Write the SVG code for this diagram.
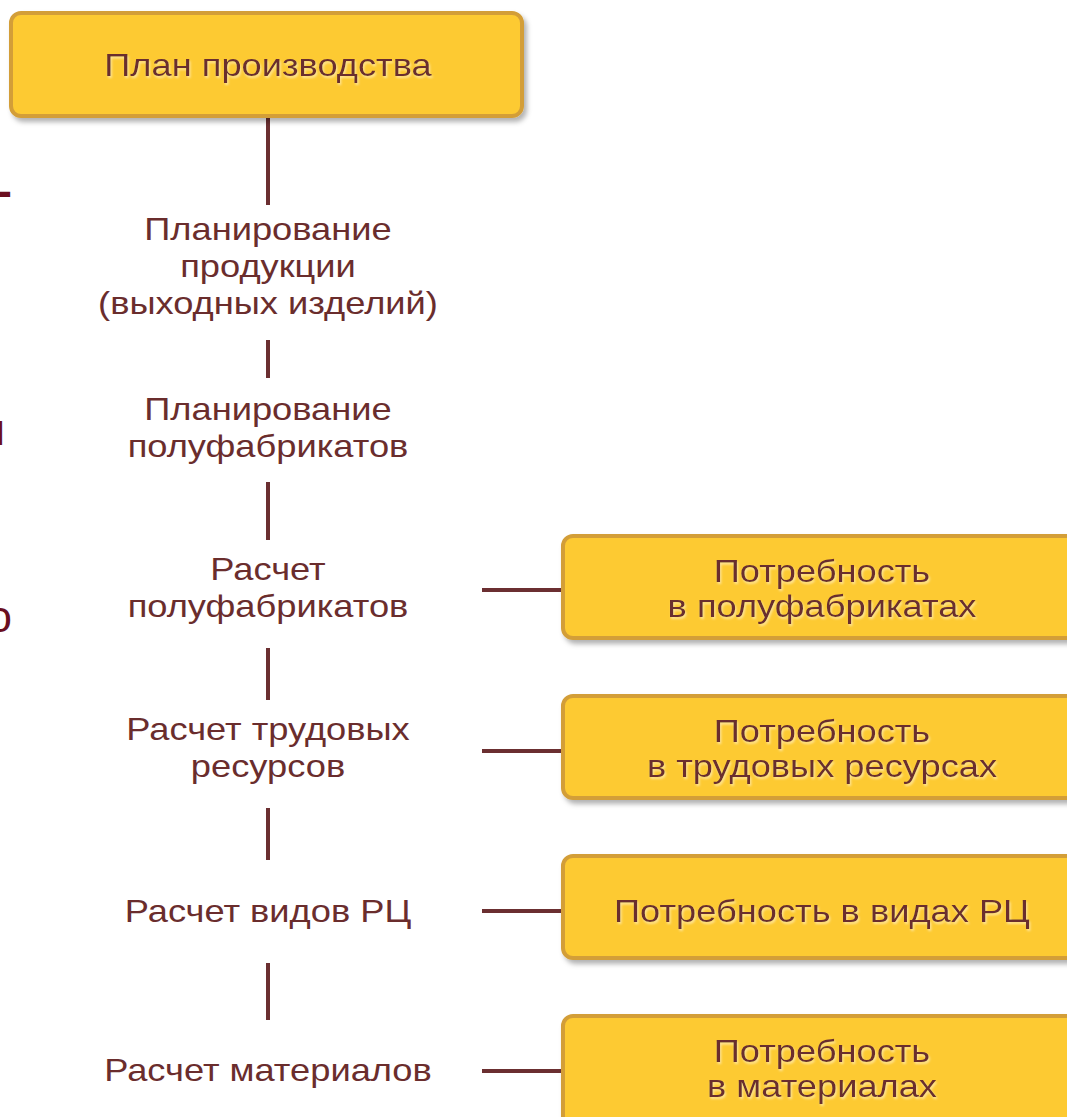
<svg xmlns="http://www.w3.org/2000/svg" width="1067" height="1117" viewBox="0 0 1067 1117">
<defs>
<filter id="sh" x="-10%" y="-10%" width="130%" height="140%">
<feDropShadow dx="3" dy="4" stdDeviation="2.5" flood-color="#000" flood-opacity="0.3"/>
</filter>
<filter id="ts" x="-5%" y="-20%" width="110%" height="150%">
<feDropShadow dx="1" dy="2" stdDeviation="0.8" flood-color="#ffe9a8" flood-opacity="0.9"/>
</filter>
<style>
.box{fill:#fdca33;stroke:#d39e39;stroke-width:4;filter:url(#sh)}
.t{font-family:"Liberation Sans",Arial,sans-serif;font-size:31px;fill:#6a2d2d;text-anchor:middle}
.bt{filter:url(#ts)}
.c{stroke:#6b2f31;stroke-width:4;fill:none}
.frag{font-family:"Liberation Sans",Arial,sans-serif;font-size:44px;fill:#6b0f1f;text-anchor:end}
</style>
</defs>
<rect width="1067" height="1117" fill="#fff"/>
<g id="fragments">
<text class="frag" x="12" y="206" font-weight="bold">-</text>
<text class="frag" x="5" y="445">и</text>
<text class="frag" x="12" y="632">о</text>
</g>
<g id="connectors">
<line class="c" x1="268" y1="116" x2="268" y2="205"/>
<line class="c" x1="268" y1="340" x2="268" y2="378"/>
<line class="c" x1="268" y1="482" x2="268" y2="540"/>
<line class="c" x1="268" y1="648" x2="268" y2="700"/>
<line class="c" x1="268" y1="808" x2="268" y2="860"/>
<line class="c" x1="268" y1="963" x2="268" y2="1020"/>
<line class="c" x1="482" y1="590" x2="563" y2="590"/>
<line class="c" x1="482" y1="751" x2="563" y2="751"/>
<line class="c" x1="482" y1="911" x2="563" y2="911"/>
<line class="c" x1="482" y1="1071" x2="563" y2="1071"/>
</g>
<g id="plan">
<rect class="box" x="11" y="13" width="511" height="103" rx="10"/>
<g transform="translate(268 0) scale(1.17 1)"><text class="t bt" x="0" y="76">План производства</text></g>
</g>
<g id="step1" transform="translate(268 0) scale(1.17 1)">
<text class="t" x="0" y="240">Планирование</text>
<text class="t" x="0" y="277">продукции</text>
<text class="t" x="0" y="314">(выходных изделий)</text>
</g>
<g id="step2" transform="translate(268 0) scale(1.17 1)">
<text class="t" x="0" y="420">Планирование</text>
<text class="t" x="0" y="457">полуфабрикатов</text>
</g>
<g id="step3" transform="translate(268 0) scale(1.17 1)">
<text class="t" x="0" y="580">Расчет</text>
<text class="t" x="0" y="617">полуфабрикатов</text>
</g>
<g id="step4" transform="translate(268 0) scale(1.17 1)">
<text class="t" x="0" y="740">Расчет трудовых</text>
<text class="t" x="0" y="777">ресурсов</text>
</g>
<g id="step5" transform="translate(268 0) scale(1.17 1)">
<text class="t" x="0" y="922">Расчет видов РЦ</text>
</g>
<g id="step6" transform="translate(268 0) scale(1.17 1)">
<text class="t" x="0" y="1081">Расчет материалов</text>
</g>
<g id="need1">
<rect class="box" x="563" y="536" width="520" height="102" rx="10"/>
<g transform="translate(822 0) scale(1.17 1)">
<text class="t bt" x="0" y="582">Потребность</text>
<text class="t bt" x="0" y="617">в полуфабрикатах</text>
</g>
</g>
<g id="need2">
<rect class="box" x="563" y="696" width="520" height="102" rx="10"/>
<g transform="translate(822 0) scale(1.17 1)">
<text class="t bt" x="0" y="742">Потребность</text>
<text class="t bt" x="0" y="777">в трудовых ресурсах</text>
</g>
</g>
<g id="need3">
<rect class="box" x="563" y="856" width="520" height="102" rx="10"/>
<g transform="translate(822 0) scale(1.17 1)">
<text class="t bt" x="0" y="922">Потребность в видах РЦ</text>
</g>
</g>
<g id="need4">
<rect class="box" x="563" y="1016" width="520" height="120" rx="10"/>
<g transform="translate(822 0) scale(1.17 1)">
<text class="t bt" x="0" y="1062">Потребность</text>
<text class="t bt" x="0" y="1097">в материалах</text>
</g>
</g>
</svg>
